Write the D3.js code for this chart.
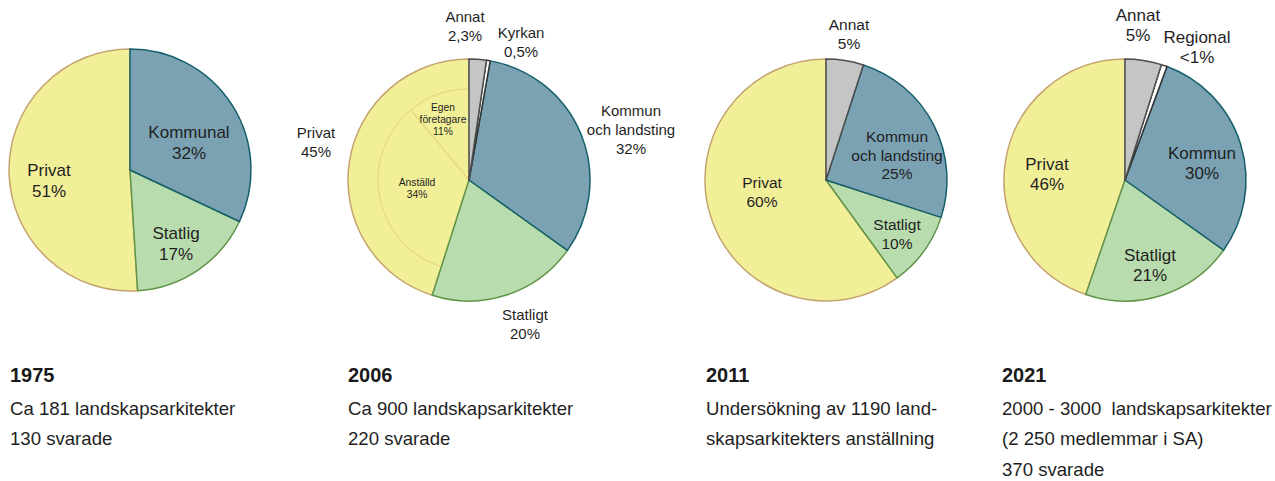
<!DOCTYPE html>
<html>
<head>
<meta charset="utf-8">
<script src="https://cdn.jsdelivr.net/npm/d3@7"></script>
<style>
  body { margin: 0; background: #fff; }
  svg { display: block; font-family: "Liberation Sans", Arial, sans-serif; }
</style>
</head>
<body>
<svg id="chart" width="1275" height="481"></svg>
<script>
// data
var years = ["1975", "2006", "2011", "2021"];
var captions = [
  ["Ca 181 landskapsarkitekter", "130 svarade"],
  ["Ca 900 landskapsarkitekter", "220 svarade"],
  ["Undersökning av 1190 land-", "skapsarkitekters anställning"],
  ["2000 - 3000  landskapsarkitekter", "(2 250 medlemmar i SA)", "370 svarade"]
];

var cat1975 = ["Kommunal", "Statlig", "Privat"];
var val1975 = [32, 17, 51];
var lab1975 = ["32%", "17%", "51%"];

var cat2006 = ["Annat", "Kyrkan", "Kommun och landsting", "Statligt", "Privat"];
var val2006 = [2.3, 0.5, 32, 20, 45];
var lab2006 = ["2,3%", "0,5%", "32%", "20%", "45%"];
var subCat2006 = ["Anställd", "Egen företagare"];
var subVal2006 = [34, 11];
var subLab2006 = ["34%", "11%"];

var cat2011 = ["Annat", "Kommun och landsting", "Statligt", "Privat"];
var val2011 = [5, 25, 10, 60];
var lab2011 = ["5%", "25%", "10%", "60%"];

var cat2021 = ["Annat", "Regional", "Kommun", "Statligt", "Privat"];
var val2021 = [5, 0.8, 30, 21, 46];
var lab2021 = ["5%", "<1%", "30%", "21%", "46%"];

// styles by sector
var style = {
  Privat:   {fill: "#f2ef99", stroke: "#c4a36f"},
  Kommun:   {fill: "#7ba2b3", stroke: "#155f6b"},
  Statlig:  {fill: "#b9dcae", stroke: "#5f9447"},
  Annat:    {fill: "#c4c5c5", stroke: "#4d4d4d"},
  Vit:      {fill: "#ffffff", stroke: "#333333"}
};
function sectorOf(name) {
  if (name.indexOf("Privat") === 0) return "Privat";
  if (name.indexOf("Kommun") === 0) return "Kommun";
  if (name.indexOf("Statlig") === 0) return "Statlig";
  if (name === "Annat") return "Annat";
  return "Vit";
}

// layout: centre, radius, label anchors relative to centre, line heights
var pies = [
  {cats: cat1975, vals: val1975, labs: lab1975, cx: 130, cy: 170, r: 121, fs: 17, lh: 21.5,
   split: {"Kommunal": ["Kommunal"]},
   pos: [[59, -38], [46, 63], [-81, 0]]},
  {cats: cat2006, vals: val2006, labs: lab2006, cx: 469, cy: 180, r: 121, fs: 15, lh: 19,
   split: {"Kommun och landsting": ["Kommun", "och landsting"]},
   pos: [[-4, -163], [52, -147], [162, -69], [56, 135], [-153, -47]],
   sub: {cats: subCat2006, vals: subVal2006, labs: subLab2006, r: 91, fs: 10.3, lh: 12,
         split: {"Egen företagare": ["Egen", "företagare"]},
         pos: [[-52, 2], [-26, -73]]}},
  {cats: cat2011, vals: val2011, labs: lab2011, cx: 826, cy: 180, r: 121, fs: 15.5, lh: 18.5,
   split: {"Kommun och landsting": ["Kommun", "och landsting"]},
   pos: [[23, -155], [71, -43], [71, 45], [-64, 3]]},
  {cats: cat2021, vals: val2021, labs: lab2021, cx: 1125, cy: 180, r: 121, fs: 17, lh: 20.5,
   split: {},
   pos: [[13, -165], [72, -143], [77, -27], [25, 75], [-78, -16]]}
];
var captionX = [10, 348, 706, 1002];

var svg = d3.select("#chart");

function drawLabel(g, lines, x, y, fs, lh) {
  var t = g.append("text")
    .attr("text-anchor", "middle")
    .attr("font-size", fs)
    .attr("fill", "#1f1f1f");
  lines.forEach(function(s, i) {
    t.append("tspan")
      .attr("x", x)
      .attr("y", y + i * lh)
      .attr("dy", "0.35em")
      .text(s);
  });
}

pies.forEach(function(p, k) {
  var g = svg.append("g").attr("transform", "translate(" + p.cx + "," + p.cy + ")");
  var arcs = d3.pie().sort(null).value(function(d) { return d; })(p.vals);
  var arc = d3.arc().innerRadius(0).outerRadius(p.r);

  // draw in reverse so the earlier sectors' outlines sit on top
  for (var i = arcs.length - 1; i >= 0; i--) {
    var s = style[sectorOf(p.cats[i])];
    g.append("path")
      .attr("d", arc(arcs[i]))
      .attr("fill", s.fill)
      .attr("stroke", s.stroke)
      .attr("stroke-width", 1.5)
      .attr("stroke-linejoin", "round");

    if (p.sub && sectorOf(p.cats[i]) === "Privat") {
      var subArcs = d3.pie().sort(null)
        .startAngle(arcs[i].startAngle).endAngle(arcs[i].endAngle)
        .value(function(d) { return d; })(p.sub.vals);
      var subArc = d3.arc().innerRadius(0).outerRadius(p.sub.r);
      g.selectAll(".sub").data(subArcs).enter().append("path")
        .attr("d", subArc)
        .attr("fill", "none")
        .attr("stroke", "#e8dc86")
        .attr("stroke-width", 1.5);
    }
  }

  p.cats.forEach(function(c, i) {
    var lines = (p.split[c] || [c]).concat([p.labs[i]]);
    drawLabel(g, lines, p.pos[i][0], p.pos[i][1], p.fs, p.lh);
  });
  if (p.sub) {
    p.sub.cats.forEach(function(c, i) {
      var lines = (p.sub.split[c] || [c]).concat([p.sub.labs[i]]);
      drawLabel(g, lines, p.sub.pos[i][0], p.sub.pos[i][1], p.sub.fs, p.sub.lh);
    });
  }

  // captions under each pie
  var cg = svg.append("g").attr("transform", "translate(" + captionX[k] + ",0)");
  cg.append("text")
    .attr("x", 0).attr("y", 382)
    .attr("font-size", 20)
    .attr("font-weight", "bold")
    .attr("fill", "#1a1a1a")
    .text(years[k]);
  captions[k].forEach(function(s, j) {
    cg.append("text")
      .attr("x", 0).attr("y", 414.5 + j * 30.8)
      .attr("font-size", 18.6)
      .attr("fill", "#1f1f1f")
      .attr("xml:space", "preserve")
      .style("white-space", "pre")
      .text(s);
  });
});
</script>
</body>
</html>
